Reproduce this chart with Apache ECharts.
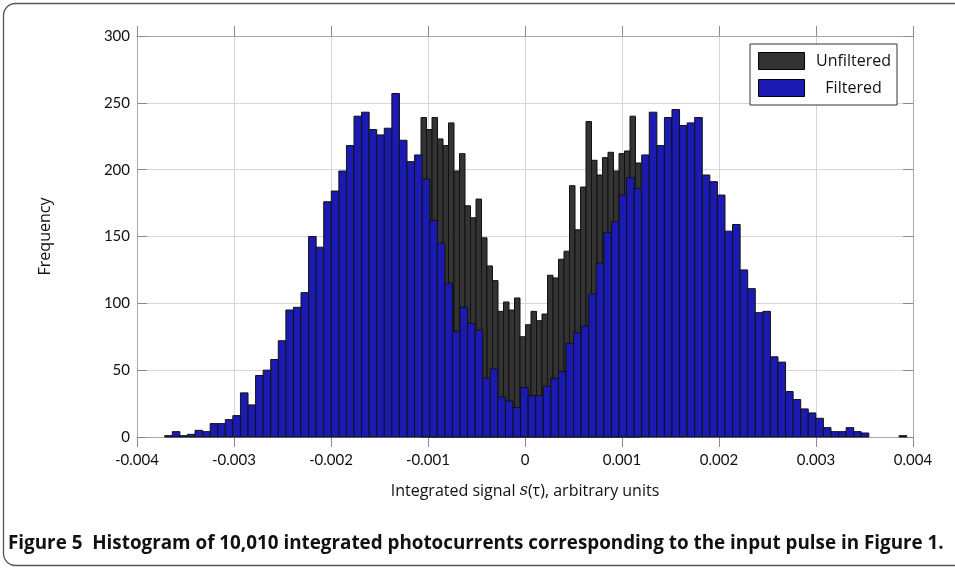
<!DOCTYPE html>
<html>
<head>
<meta charset="utf-8">
<script src="https://cdn.jsdelivr.net/npm/echarts@6/dist/echarts.min.js"></script>
<style>
  html, body { margin: 0; padding: 0; background: #fff; }
  #chart { width: 955px; height: 572px; }
</style>
</head>
<body>
<div id="chart"></div>
<script>
// ---- Data ----
// Filtered histogram: 98 bins, first left edge and bin width (signal units)
const filteredStart = -0.003714;
const filteredBinWidth = 0.00007805;
const filteredCounts = [
  1, 4, 1, 2, 5, 4, 10, 10, 13, 16,
  33, 24, 46, 50, 58, 72, 95, 97, 108, 150,
  142, 176, 184, 199, 218, 240, 243, 230, 226, 231,
  257, 222, 206, 211, 193, 162, 145, 115, 79, 97,
  85, 80, 44, 51, 30, 27, 22, 37, 31, 31,
  38, 44, 49, 70, 78, 83, 107, 130, 153, 161,
  181, 194, 186, 211, 243, 218, 239, 245, 233, 235,
  239, 196, 191, 181, 154, 159, 125, 111, 93, 94,
  60, 56, 34, 28, 21, 18, 14, 7, 4, 4,
  7, 4, 3, 0, 0, 0, 0, 1
];
// Unfiltered histogram: visible bins only (the rest are hidden behind the filtered bars)
const unfilteredStart = -0.001072;
const unfilteredBinWidth = 0.0000567;
const unfilteredCounts = [
  239, 230, 239, 223, 218, 235, 199, 212, 173, 164,
  178, 149, 128, 117, 94, 101, 95, 104, 75, 84,
  94, 87, 92, 121, 119, 133, 139, 188, 155, 187,
  236, 207, 196, 209, 213, 199, 212, 214, 240, 205
];
const seriesNames = ['Unfiltered', 'Filtered'];
const xTicks = [-0.004, -0.003, -0.002, -0.001, 0, 0.001, 0.002, 0.003, 0.004];
const yTicks = [0, 50, 100, 150, 200, 250, 300];
const captionText = 'Figure 5  Histogram of 10,010 integrated photocurrents corresponding to the input pulse in Figure 1.';

const colorUnfiltered = '#333333';
const colorFiltered = '#1b1bb3';
const fontFam = 'Lato, "DejaVu Sans", sans-serif';
const textFam = '"Open Sans", "DejaVu Sans", sans-serif';
const capFam = '"Open Sans", Roboto, sans-serif';

function toBins(start, w, counts) {
  return counts.map((c, i) => [start + i * w, start + (i + 1) * w, c]);
}

function makeRender(color) {
  return function (params, api) {
    const h = api.value(2);
    if (!h) return null;
    const p0 = api.coord([api.value(0), h]);
    const p1 = api.coord([api.value(1), 0]);
    return {
      type: 'rect',
      shape: { x: p0[0], y: p0[1], width: p1[0] - p0[0], height: p1[1] - p0[1] },
      style: { fill: color, stroke: '#111', lineWidth: 1 }
    };
  };
}

// fit caption to the reference width
function fitFontSize(text, family, weight, targetWidth) {
  const c = document.createElement('canvas').getContext('2d');
  c.font = weight + ' 100px ' + family;
  const w = c.measureText(text).width;
  return Math.min(19, 100 * targetWidth / w);
}
const capSize = fitFontSize(captionText, capFam, 'bold', 936);

const chart = echarts.init(document.getElementById('chart'), null, { renderer: 'canvas' });

const fmtX = v => (Math.abs(v) < 1e-12 ? '0' : v.toFixed(3));
const gridColor = '#d6d6d6';
const axisColor = '#a8a8a8';
const tickColor = '#8a8a8a';

const option = {
  animation: false,
  backgroundColor: '#fff',
  grid: { left: 137, top: 36, width: 776, height: 401 },
  xAxis: [
    {
      type: 'value', min: xTicks[0], max: xTicks[xTicks.length - 1], interval: 0.001,
      position: 'bottom',
      axisLine: { show: true, onZero: false, lineStyle: { color: axisColor, width: 1 } },
      axisTick: { show: true, inside: false, length: 10, lineStyle: { color: tickColor } },
      axisLabel: { formatter: fmtX, color: '#111', fontSize: 15, fontFamily: fontFam, margin: 16 },
      splitLine: { show: true, lineStyle: { color: gridColor, width: 1 } },
      name: 'Integrated signal {i|s}(\u03c4), arbitrary units',
      nameLocation: 'middle', nameGap: 46,
      nameTextStyle: {
        color: '#111', fontSize: 16, fontFamily: textFam,
        rich: { i: { fontStyle: 'italic', fontFamily: '"DejaVu Serif", serif', fontSize: 16, color: '#111' } }
      }
    },
    {
      type: 'value', min: xTicks[0], max: xTicks[xTicks.length - 1], interval: 0.001,
      position: 'top',
      axisLine: { show: true, onZero: false, lineStyle: { color: axisColor, width: 1 } },
      axisTick: { show: true, inside: false, length: 10, lineStyle: { color: tickColor } },
      axisLabel: { show: false },
      splitLine: { show: false }
    }
  ],
  yAxis: [
    {
      type: 'value', min: 0, max: 300, interval: 50,
      position: 'left',
      axisLine: { show: true, onZero: false, lineStyle: { color: axisColor, width: 1 } },
      axisTick: { show: true, inside: true, length: 10, lineStyle: { color: tickColor } },
      axisLabel: { color: '#111', fontSize: 15, fontFamily: fontFam, margin: 7 },
      splitLine: { show: true, lineStyle: { color: gridColor, width: 1 } },
      name: 'Frequency', nameLocation: 'middle', nameGap: 84, nameRotate: 90,
      nameTextStyle: { color: '#111', fontSize: 16, fontFamily: textFam }
    },
    {
      type: 'value', min: 0, max: 300, interval: 50,
      position: 'right',
      axisLine: { show: true, onZero: false, lineStyle: { color: axisColor, width: 1 } },
      axisTick: { show: true, inside: true, length: 10, lineStyle: { color: tickColor } },
      axisLabel: { show: false },
      splitLine: { show: false }
    }
  ],
  legend: {
    orient: 'vertical',
    right: 58, top: 44,
    padding: [8, 6, 8, 8],
    itemGap: 9,
    itemWidth: 46, itemHeight: 17,
    backgroundColor: '#fff',
    borderColor: '#333', borderWidth: 1,
    icon: 'rect',
    formatter: name => '{a|' + name + '}',
    textStyle: {
      color: '#111', fontSize: 16, fontFamily: textFam,
      rich: { a: { width: 88, align: 'center', fontSize: 16, fontFamily: textFam, color: '#111' } }
    },
    data: [
      { name: seriesNames[0], itemStyle: { color: colorUnfiltered, borderColor: '#000', borderWidth: 1 } },
      { name: seriesNames[1], itemStyle: { color: colorFiltered, borderColor: '#000', borderWidth: 1 } }
    ]
  },
  series: [
    {
      name: seriesNames[0], type: 'custom', renderItem: makeRender(colorUnfiltered),
      itemStyle: { color: colorUnfiltered },
      encode: { x: [0, 1], y: 2 },
      data: toBins(unfilteredStart, unfilteredBinWidth, unfilteredCounts), z: 3
    },
    {
      name: seriesNames[1], type: 'custom', renderItem: makeRender(colorFiltered),
      itemStyle: { color: colorFiltered },
      encode: { x: [0, 1], y: 2 },
      data: toBins(filteredStart, filteredBinWidth, filteredCounts), z: 4
    }
  ],
  graphic: [
    {
      type: 'rect', silent: true, z: -10,
      shape: { x: 3.5, y: 3.5, width: 1000, height: 562, r: 12 },
      style: { fill: 'none', stroke: '#555', lineWidth: 1.3 }
    },
    {
      type: 'text', left: 8, top: 534,
      style: {
        text: captionText,
        fill: '#111', fontSize: capSize, fontWeight: 'bold', fontFamily: capFam
      }
    }
  ]
};
chart.setOption(option);
</script>
</body>
</html>
